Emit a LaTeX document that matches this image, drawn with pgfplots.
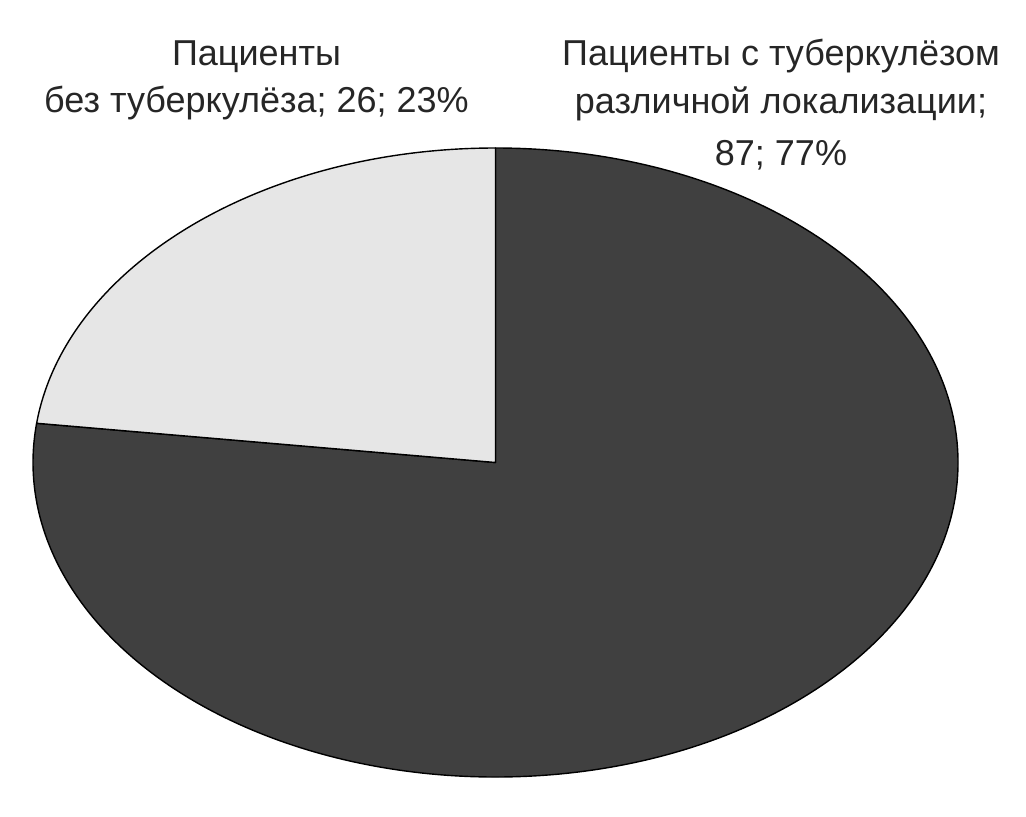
\documentclass[border=0pt]{standalone}
\usepackage{pgfplots}
\pgfplotsset{compat=1.18}
\usepackage{pgfplotstable}
\usepackage{fontspec}
\setmainfont{Liberation Sans}
\pgfplotstableread{
value
87
26
}\piedata
\definecolor{darkslice}{HTML}{404040}
\definecolor{lightslice}{HTML}{E6E6E6}
\begin{document}
\begin{tikzpicture}
\path[use as bounding box] (0pt,0pt) rectangle (513pt,408pt);
\pgfplotstablegetelem{0}{value}\of\piedata \let\valA\pgfplotsretval
\pgfplotstablegetelem{1}{value}\of\piedata \let\valB\pgfplotsretval
\pgfmathsetmacro{\angB}{90+360*\valB/(\valA+\valB)}
\pgfmathsetmacro{\angBm}{\angB-360}
\begin{axis}[at={(247.75pt,176.75pt)}, anchor=origin,
  x=231.25pt, y=157.25pt, xmin=-1, xmax=1, ymin=-1, ymax=1,
  hide axis, clip=false]
\filldraw[fill=darkslice, draw=black, line width=0.7pt, line join=round]
  (axis cs:0,0) -- (axis cs:0,1)
  arc[start angle=90, end angle=\angBm, x radius=231.25pt, y radius=157.25pt] -- cycle;
\filldraw[fill=lightslice, draw=black, line width=0.7pt, line join=round]
  (axis cs:0,0) -- (axis cs:0,1)
  arc[start angle=90, end angle=\angB, x radius=231.25pt, y radius=157.25pt] -- cycle;
\end{axis}
\begin{scope}[every node/.style={anchor=base, inner sep=0pt, text=black!85, font=\fontsize{18pt}{20pt}\selectfont}]
\node at (128.25pt,375pt) {Пациенты};
\node at (128.25pt,352pt) {без туберкулёза; 26; 23\%};
\node at (390.5pt,375pt) {Пациенты с туберкулёзом};
\node at (390.5pt,351.5pt) {различной локализации;};
\node at (390.5pt,325.5pt) {87; 77\%};
\end{scope}
\end{tikzpicture}
\end{document}
